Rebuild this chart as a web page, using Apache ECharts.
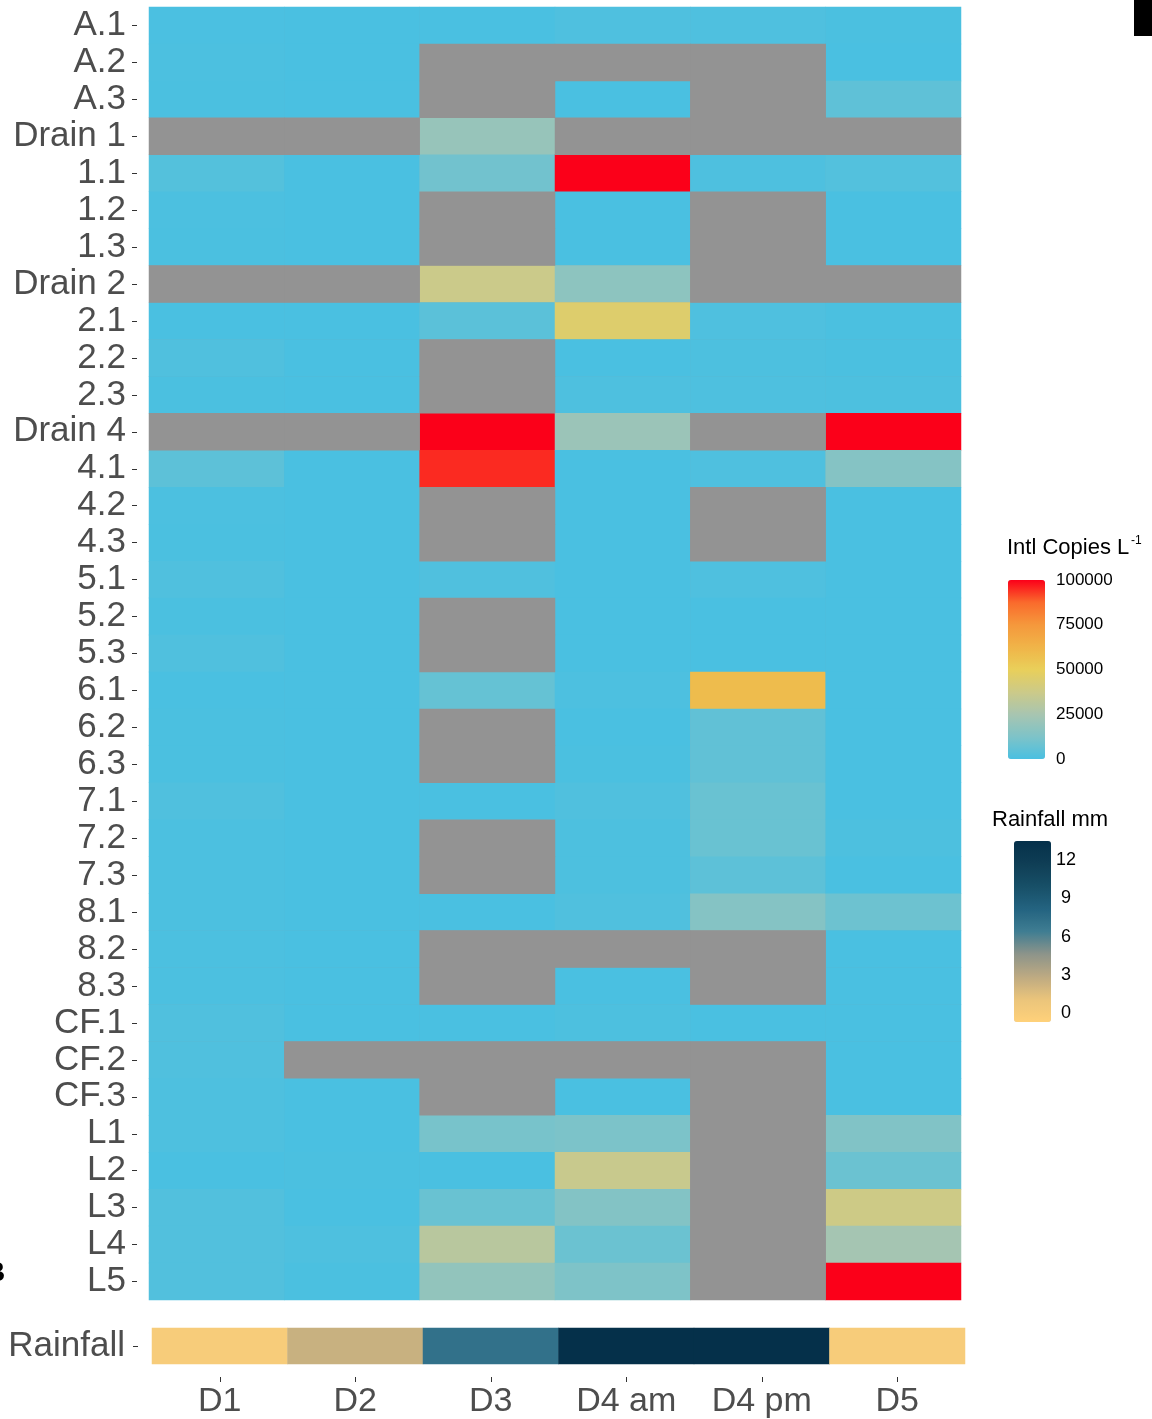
<!DOCTYPE html>
<html><head><meta charset="utf-8">
<script src="https://cdn.jsdelivr.net/npm/echarts@6/dist/echarts.min.js"></script>
<style>html,body{margin:0;padding:0;background:#fff;}#c{width:1152px;height:1419px;}</style>
</head><body><div id="c"></div>
<script>
const rows = ['A.1','A.2','A.3','Drain 1','1.1','1.2','1.3','Drain 2','2.1','2.2','2.3','Drain 4','4.1','4.2','4.3','5.1','5.2','5.3','6.1','6.2','6.3','7.1','7.2','7.3','8.1','8.2','8.3','CF.1','CF.2','CF.3','L1','L2','L3','L4','L5'];
const days = ['D1','D2','D3','D4 am','D4 pm','D5'];
// Intl copies per litre, one array per sampling day (null = not sampled)
const d1   = [200,500,300,null,2500,500,300,null,0,1500,300,null,4500,500,300,1500,300,1500,0,300,300,1500,500,500,500,500,500,1500,1500,1000,1000,0,2000,2000,2000];
const d2   = [0,0,0,null,0,0,0,null,0,0,0,null,0,0,0,0,0,0,0,0,0,0,0,0,0,0,0,0,null,0,0,300,0,1000,300];
const d3   = [0,null,null,20000,9500,null,null,37000,4200,null,null,100000,95000,null,null,1500,null,null,6500,null,null,0,null,null,0,null,null,0,null,null,11000,0,7500,30500,18500];
const d4am = [1200,null,0,null,100000,0,0,17000,45000,0,1000,21000,0,0,0,0,0,0,700,0,300,1500,800,800,1500,null,0,800,null,0,12000,36000,14000,8000,12500];
const d4pm = [1200,null,null,null,1000,null,null,null,1200,800,1000,null,1200,null,null,1200,0,0,59000,5500,5500,7500,7500,4500,14500,null,null,0,null,null,null,null,null,null,null];
const d5   = [300,0,5000,null,2200,0,0,null,300,300,800,100000,14500,0,0,0,0,0,0,0,0,0,800,0,8500,0,0,0,0,0,13500,8000,38000,24000,100000];
const rainfall = [0, 2.4, 7.2, 13.5, 13.5, 0];
const intlTicks = [0, 25000, 50000, 75000, 100000];
const rainTicks = [0, 3, 6, 9, 12];

const cols = [d1, d2, d3, d4am, d4pm, d5];
const heatData = [], naData = [];
cols.forEach((col, x) => col.forEach((v, y) => {
  if (v === null) naData.push([x, y, 0]); else heatData.push([x, y, v]);
}));
const rainData = rainfall.map((v, x) => [x, 0, v]);

const FONT = 'Liberation Sans, Arial, Helvetica, sans-serif';
const chart = echarts.init(document.getElementById('c'), null, {renderer: 'canvas'});
chart.setOption({
  backgroundColor: '#ffffff',
  animation: false,
  grid: [
    {left: 149, top: 7, width: 812, height: 1293, show: true, backgroundColor: '#939393', borderWidth: 0},
    {left: 152, top: 1328, width: 813, height: 37},
    {left: 1008, top: 580, width: 37, height: 179},
    {left: 1014, top: 841, width: 37, height: 181}
  ],
  xAxis: [
    {type: 'category', gridIndex: 0, data: days, show: false},
    {type: 'category', gridIndex: 1, data: days, position: 'bottom', offset: 13,
     axisLine: {show: false}, axisTick: {show: true, alignWithLabel: true, interval: 0, length: 5, lineStyle: {color: '#333'}},
     axisLabel: {fontSize: 34, color: '#4D4D4D', fontFamily: FONT, margin: 8, interval: 0}},
    {type: 'value', gridIndex: 2, show: false, min: 0, max: 1},
    {type: 'value', gridIndex: 3, show: false, min: 0, max: 1}
  ],
  yAxis: [
    {type: 'category', gridIndex: 0, data: rows, inverse: true, offset: 12,
     axisLine: {show: false}, axisTick: {show: true, alignWithLabel: true, interval: 0, length: 5, lineStyle: {color: '#333'}},
     axisLabel: {fontSize: 35, color: '#4D4D4D', fontFamily: FONT, margin: 11, interval: 0, padding: [10, 0, 0, 0]}},
    {type: 'category', gridIndex: 1, data: ['Rainfall'], offset: 14,
     axisLine: {show: false}, axisTick: {show: true, alignWithLabel: true, length: 5, lineStyle: {color: '#333'}},
     axisLabel: {fontSize: 35, color: '#4D4D4D', fontFamily: FONT, margin: 13, padding: [10, 0, 0, 0]}},
    {type: 'value', gridIndex: 2, position: 'left', min: 0, max: 100000, interval: 25000,
     axisLine: {show: false}, splitLine: {show: false}, axisLabel: {show: false},
     axisTick: {show: true, inside: true, length: 6, lineStyle: {color: '#ffffff', width: 1}}},
    {type: 'value', gridIndex: 2, position: 'right', min: 0, max: 100000, interval: 25000,
     axisLine: {show: false}, splitLine: {show: false},
     axisTick: {show: true, inside: true, length: 6, lineStyle: {color: '#ffffff', width: 1}},
     axisLabel: {show: true, fontSize: 17, color: '#000', fontFamily: FONT, margin: 11, formatter: v => String(v)}},
    {type: 'value', gridIndex: 3, position: 'left', min: -0.7, max: 13.5,
     axisLine: {show: false}, splitLine: {show: false}, axisLabel: {show: false},
     axisTick: {show: true, inside: true, length: 6, customValues: rainTicks, lineStyle: {color: '#dddddd', width: 1}}},
    {type: 'value', gridIndex: 3, position: 'right', min: -0.7, max: 13.5,
     axisLine: {show: false}, splitLine: {show: false},
     axisTick: {show: true, inside: true, length: 6, customValues: rainTicks, lineStyle: {color: '#dddddd', width: 1}},
     axisLabel: {show: true, customValues: rainTicks, fontSize: 18, color: '#000', fontFamily: FONT, margin: 15, align: 'center'}}
  ],
  visualMap: [
    {type: 'continuous', seriesIndex: 0, min: 0, max: 100000, calculable: false, orient: 'vertical',
     left: 1008, top: 580, itemWidth: 37, itemHeight: 179, padding: 0, hoverLink: false,
     inRange: {color: ['#4AC0E1','#7EC3C8','#A8C5B0','#CCCA88','#E9CF5A','#F0B448','#F5983C','#FA6A2C','#FB0019']}},
    {type: 'continuous', seriesIndex: 1, min: -0.7, max: 13.5, calculable: false, orient: 'vertical',
     left: 1014, top: 841, itemWidth: 37, itemHeight: 181, padding: 0, hoverLink: false,
     inRange: {color: ['#FFD17A','#EAC47B','#BDAA82','#8D948A','#3F7D92','#236380','#174F67','#0F3E55','#05304A']}}
  ],
  series: [
    {type: 'heatmap', xAxisIndex: 0, yAxisIndex: 0, data: heatData, emphasis: {disabled: true}, progressive: 0},
    {type: 'heatmap', xAxisIndex: 1, yAxisIndex: 1, data: rainData, emphasis: {disabled: true}},
    {type: 'heatmap', xAxisIndex: 0, yAxisIndex: 0, data: naData, itemStyle: {color: '#939393'}, emphasis: {disabled: true}}
  ],
  graphic: [
    {type: 'text', x: 1007, y: 548, style: {text: 'Intl Copies L', font: '22px ' + FONT, fill: '#000', textVerticalAlign: 'middle'}},
    {type: 'text', x: 1131, y: 541, style: {text: '-1', font: '12px ' + FONT, fill: '#000', textVerticalAlign: 'middle'}},
    {type: 'text', x: 992, y: 820, style: {text: 'Rainfall mm', font: '22px ' + FONT, fill: '#000', textVerticalAlign: 'middle'}},
    {type: 'text', x: -15, y: 1273, style: {text: 'B', font: 'bold 28px ' + FONT, fill: '#000', textVerticalAlign: 'middle'}},
    {type: 'rect', shape: {x: 1134, y: 0, width: 18, height: 36}, style: {fill: '#000'}}
  ]
});
</script></body></html>
